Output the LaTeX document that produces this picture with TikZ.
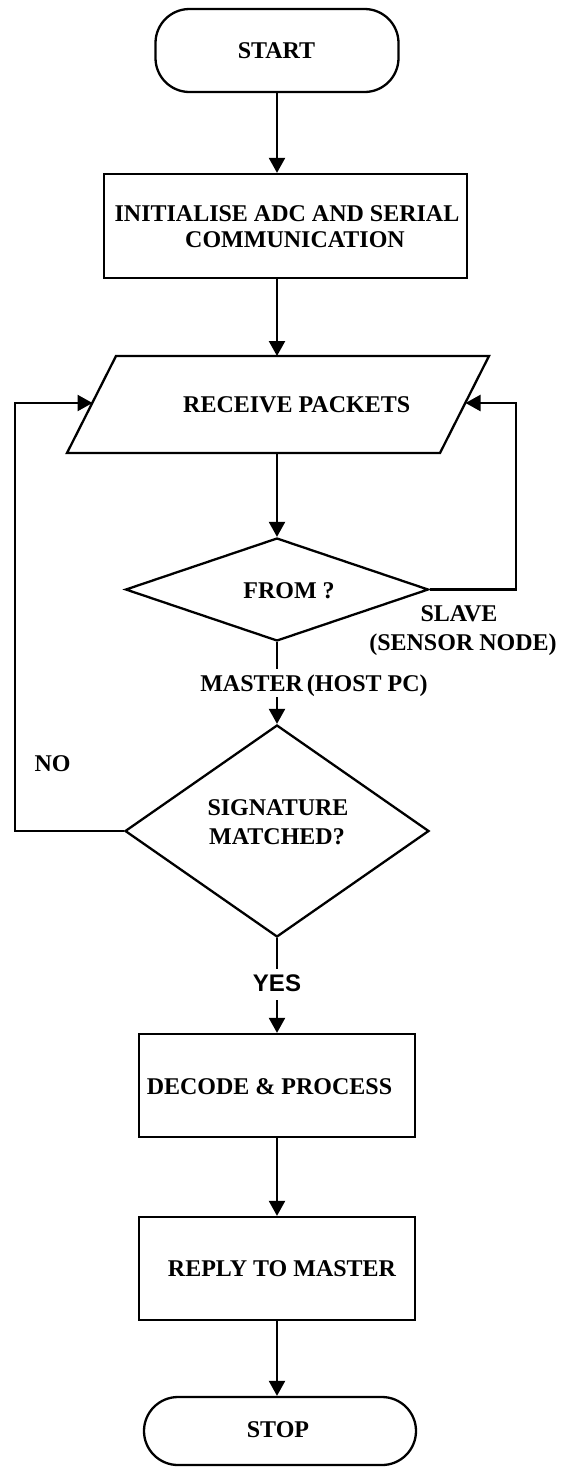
\documentclass[tikz,border=0pt]{standalone}
\usepackage{fontspec}
\setmainfont{Liberation Serif}
\newfontfamily\arialfont{Liberation Sans}
\usetikzlibrary{shapes.geometric,arrows.meta}
\begin{document}
\begin{tikzpicture}[x=1pt,y=-1pt,line width=2.3pt,
  every node/.style={font=\fontsize{24}{29}\selectfont\bfseries},
  shp/.style={draw,inner sep=0pt},
  term/.style={shp,rectangle,rounded corners=34pt},
  procbox/.style={shp,rectangle},
  decision/.style={shp,diamond},
  txt/.style={anchor=base,inner sep=0pt},
  arr/.style={-{Triangle[length=15pt,width=16pt]}}]
\useasboundingbox (0,0) rectangle (570,1470);
% shapes
\node[term,minimum width=243pt,minimum height=83pt] (start) at (277,50.5) {};
\node[procbox,minimum width=363pt,minimum height=104pt] (init) at (285.5,226) {};
\coordinate (rpTL) at (116,356);
\coordinate (rpTR) at (489,356);
\coordinate (rpBR) at (440,453);
\coordinate (rpBL) at (67,453);
\draw (rpTL) -- (rpTR) -- (rpBR) -- (rpBL) -- cycle;
\coordinate (rpT) at (277,356);
\coordinate (rpB) at (277,453);
\coordinate (rpL) at (92.5,403);
\coordinate (rpR) at (465.5,403);
\node[decision,minimum width=303pt,minimum height=103pt] (from) at (277,589.5) {};
\node[decision,minimum width=304pt,minimum height=212pt] (sig) at (277,831) {};
\node[procbox,minimum width=276pt,minimum height=103pt] (dec) at (277,1085.5) {};
\node[procbox,minimum width=276pt,minimum height=103pt] (rep) at (277,1268.5) {};
\node[term,minimum width=272pt,minimum height=68pt] (stop) at (280,1431) {};
% texts
\node[txt] (tstart) at (276.5,58) {START};
\node[txt] (tinit1) at (287,221) {INITIALISE ADC AND SERIAL};
\node[txt] (tinit2) at (295,247) {COMMUNICATION};
\node[txt] (trp) at (296.7,412) {RECEIVE PACKETS};
\node[txt] (tfrom) at (289,598) {FROM ?};
\node[txt] (tslave1) at (459,621) {SLAVE};
\node[txt] (tslave2) at (463,650) {(SENSOR NODE)};
\node[txt] (tmaster) at (314,691) {MASTER\,(HOST PC)};
\node[txt] (tno) at (52.5,771) {NO};
\node[txt] (tsig1) at (278,815) {SIGNATURE};
\node[txt] (tsig2) at (277,844) {MATCHED?};
\node[txt,font=\arialfont\fontsize{24}{29}\selectfont\bfseries] (tyes) at (277,991.6) {YES};
\node[txt] (tdec) at (269.5,1094) {DECODE \& PROCESS};
\node[txt] (trep) at (282,1276) {REPLY TO MASTER};
\node[txt] (tstop) at (278,1437) {STOP};
% connectors
\coordinate (m1) at (277,669);
\coordinate (m2) at (277,697);
\coordinate (y1) at (277,969);
\coordinate (y2) at (277,1000);
\draw[arr] (start) -- (start |- init.north);
\draw[arr] (init.south -| start) -- (rpT);
\draw[arr] (rpB) -- (from.north);
\draw (from.south) -- (m1);
\draw[arr] (m2) -- (sig.north);
\draw (sig.south) -- (y1);
\draw[arr] (y2) -- (dec.north);
\draw[arr] (dec) -- (rep);
\draw[arr] (rep.south) -- (rep.south |- stop.north);
\draw[arr] (from.east) -- ++(86,0) |- (rpR);
\draw[arr] (sig.west) -- ++(-109,0) |- (rpL);
\end{tikzpicture}
\end{document}
